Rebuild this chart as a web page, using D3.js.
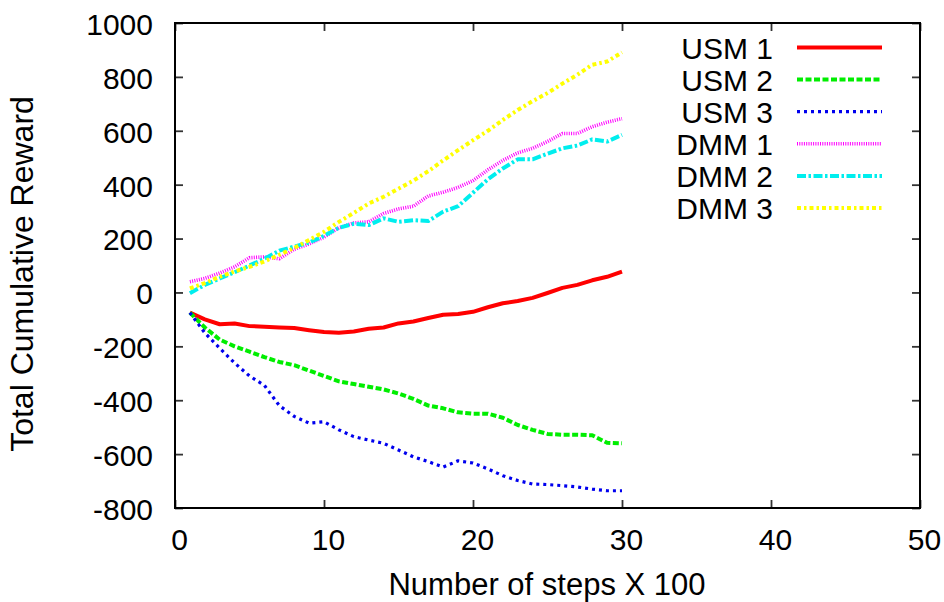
<!DOCTYPE html>
<html>
<head>
<meta charset="utf-8">
<script src="https://cdn.jsdelivr.net/npm/d3@7"></script>
<style>
  html, body { margin: 0; padding: 0; background: #fff; }
  svg { display: block; font-family: "Liberation Sans", Arial, sans-serif; }
</style>
</head>
<body>
<svg id="chart" width="944" height="602"></svg>
<script>
// ---- data ----
const steps = d3.range(1, 31);
const usm1 = [-75, -100, -118, -115, -125, -127, -130, -132, -140, -147, -150, -145, -135, -130, -115, -108, -95, -83, -80, -72, -55, -40, -32, -20, -2, 17, 28, 45, 58, 77];
const usm2 = [-75, -130, -175, -200, -220, -240, -258, -270, -290, -310, -330, -340, -350, -360, -375, -395, -420, -430, -445, -450, -450, -465, -492, -510, -525, -528, -528, -530, -558, -560];
const usm3 = [-75, -150, -207, -262, -310, -345, -420, -460, -485, -480, -510, -535, -548, -560, -585, -610, -628, -648, -625, -633, -655, -680, -698, -711, -713, -717, -722, -730, -736, -736];
const dmm1 = [40, 52, 72, 95, 129, 132, 125, 160, 180, 205, 240, 258, 262, 293, 310, 320, 358, 372, 390, 415, 455, 490, 518, 535, 560, 590, 590, 615, 632, 645];
const dmm2 = [-3, 28, 52, 75, 100, 125, 155, 170, 185, 210, 240, 255, 250, 275, 262, 268, 265, 300, 320, 370, 420, 460, 494, 494, 515, 535, 545, 568, 560, 585];
const dmm3 = [15, 35, 58, 78, 95, 115, 140, 165, 195, 225, 262, 295, 330, 355, 385, 415, 450, 490, 528, 565, 600, 640, 677, 710, 740, 775, 808, 845, 857, 891];
const seriesNames = ["USM 1", "USM 2", "USM 3", "DMM 1", "DMM 2", "DMM 3"];
const xTicks = [0, 10, 20, 30, 40, 50];
const yTicks = [-800, -600, -400, -200, 0, 200, 400, 600, 800, 1000];

// ---- styles ----
const styles = [
  { color: "#ff0000", width: 4,   dash: null },
  { color: "#00ee00", width: 4,   dash: "6,2.5" },
  { color: "#0000ee", width: 3.2, dash: "3,4" },
  { color: "#ff00ff", width: 3.6, dash: "1,1.3" },
  { color: "#00eeee", width: 4,   dash: "9,2.5,2.5,2.5" },
  { color: "#ffff00", width: 4,   dash: "4,3,2.5,3" }
];
const allSeries = [usm1, usm2, usm3, dmm1, dmm2, dmm3];

const L = 175, R = 920, T = 23, B = 508;
const svg = d3.select("#chart");
const x = d3.scaleLinear().domain([0, 50]).range([L, R]);
const y = d3.scaleLinear().domain([-800, 1000]).range([B, T]);
const fs = 30;
const fmt = d => String(d);

// axes
const gL = svg.append("g").attr("transform", `translate(${L},0)`)
  .call(d3.axisLeft(y).tickValues(yTicks).tickSize(-8).tickPadding(22).tickFormat(fmt));
const gB = svg.append("g").attr("transform", `translate(0,${B})`)
  .call(d3.axisBottom(x).tickValues(xTicks).tickSize(-8).tickPadding(21).tickFormat(fmt));
const gR = svg.append("g").attr("transform", `translate(${R},0)`)
  .call(d3.axisRight(y).tickValues(yTicks).tickSize(-8).tickFormat(""));
const gT = svg.append("g").attr("transform", `translate(0,${T})`)
  .call(d3.axisTop(x).tickValues(xTicks).tickSize(-8).tickFormat(""));
[gL, gB, gR, gT].forEach(g => {
  g.select(".domain").remove();
  g.selectAll(".tick line").attr("stroke", "#333").attr("stroke-width", 1.8);
  g.selectAll(".tick text").attr("fill", "#000").style("font-size", fs + "px")
    .style("font-family", '"Liberation Sans", Arial, sans-serif');
});
gL.selectAll(".tick text").attr("dy", "0.38em");
gB.selectAll(".tick text").attr("dx", 4);

// frame
svg.append("rect").attr("x", L).attr("y", T).attr("width", R - L).attr("height", B - T)
  .attr("fill", "none").attr("stroke", "#000").attr("stroke-width", 2);

// lines
const line = d3.line().x((d, i) => x(steps[i])).y(d => y(d));
allSeries.forEach((s, k) => {
  const st = styles[k];
  svg.append("path").datum(s).attr("d", line)
    .attr("fill", "none").attr("stroke", st.color).attr("stroke-width", st.width)
    .attr("stroke-dasharray", st.dash).attr("stroke-linejoin", "round");
});

// legend
const lg = svg.append("g");
seriesNames.forEach((n, k) => {
  const st = styles[k];
  const cy = 47.5 + k * 32.1;
  lg.append("text").attr("x", 773).attr("y", cy + 11).attr("text-anchor", "end")
    .style("font-size", fs + "px").attr("fill", "#000").text(n);
  lg.append("line").attr("x1", 797).attr("x2", 882).attr("y1", cy).attr("y2", cy)
    .attr("stroke", st.color).attr("stroke-width", st.width).attr("stroke-dasharray", st.dash);
});

// axis labels
svg.append("text").attr("x", 547).attr("y", 595).attr("text-anchor", "middle")
  .style("font-size", "31px").attr("fill", "#000").text("Number of steps X 100");
svg.append("text").attr("transform", "translate(33,274) rotate(-90)").attr("text-anchor", "middle")
  .style("font-size", "32px").attr("fill", "#000").text("Total Cumulative Reward");
</script>
</body>
</html>
